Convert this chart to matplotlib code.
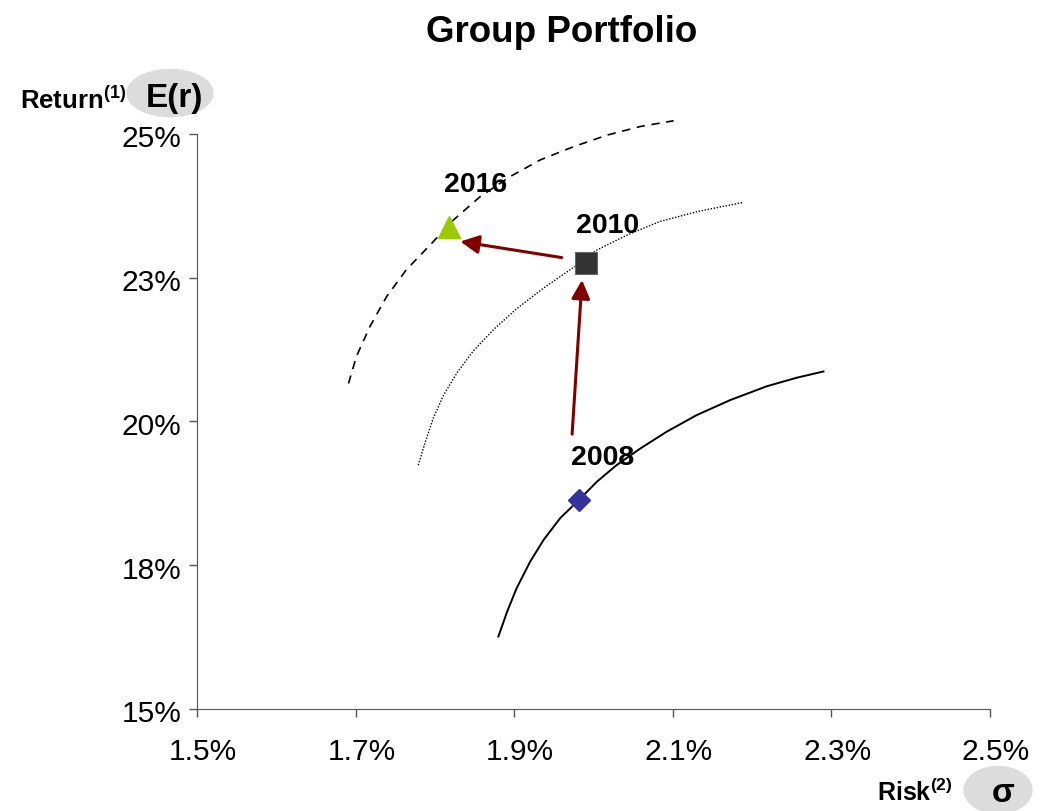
import matplotlib
matplotlib.use("Agg")
import matplotlib.pyplot as plt
from matplotlib.patches import Ellipse
from matplotlib.transforms import ScaledTranslation

plt.rcParams["font.family"] = ["Liberation Sans", "DejaVu Sans"]
plt.rcParams["mathtext.fontset"] = "custom"
plt.rcParams["mathtext.rm"] = "Liberation Sans:bold"
plt.rcParams["mathtext.bf"] = "Liberation Sans:bold"

# frontier curves, risk (%) vs return (%)
risk_2016 = [1.691, 1.701, 1.718, 1.739, 1.764, 1.794, 1.823, 1.857, 1.895,
             1.933, 1.975, 2.017, 2.059, 2.101]
ret_2016 = [20.66, 21.13, 21.65, 22.17, 22.64, 23.07, 23.50, 23.91, 24.26,
            24.55, 24.78, 24.98, 25.13, 25.23]

risk_2010 = [1.779, 1.788, 1.798, 1.811, 1.828, 1.848, 1.874, 1.903, 1.937,
             1.979, 2.004, 2.042, 2.084, 2.134, 2.189]
ret_2010 = [19.24, 19.65, 20.06, 20.46, 20.85, 21.22, 21.60, 21.96, 22.32,
            22.72, 22.98, 23.24, 23.48, 23.66, 23.81]

risk_2008 = [1.880, 1.891, 1.903, 1.920, 1.937, 1.958, 1.982, 2.004, 2.029,
             2.059, 2.092, 2.130, 2.172, 2.218, 2.256, 2.290]
ret_2008 = [16.26, 16.69, 17.10, 17.56, 17.94, 18.32, 18.64, 18.95, 19.24,
            19.53, 19.82, 20.11, 20.37, 20.61, 20.76, 20.87]

# portfolio points
years = ["2008", "2010", "2016"]
pt_risk = [1.982, 1.991, 1.818]
pt_ret = [18.64, 22.76, 23.39]
label_pos = [(2.011, 19.36), (2.018, 23.40), (1.851, 24.11)]

# arrows (start -> end)
arrows = [((1.973, 19.78), (1.9855, 22.46)), ((1.960, 22.85), (1.832, 23.13))]

xticks = [1.5, 1.7, 1.9, 2.1, 2.3, 2.5]
xlabels = ["1.5%", "1.7%", "1.9%", "2.1%", "2.3%", "2.5%"]
yticks = [15, 17.5, 20, 22.5, 25]
ylabels = ["15%", "18%", "20%", "23%", "25%"]

fig = plt.figure(figsize=(10.43, 8.11), dpi=100)
ax = fig.add_axes([0.1889, 0.1258, 0.7603, 0.709])

ax.plot(risk_2016, ret_2016, color="black", lw=1.2, ls=(0, (5, 4)), clip_on=False)
ax.plot(risk_2010, ret_2010, color="black", lw=1.0, ls=(0, (1, 1.2)), clip_on=False)
ax.plot(risk_2008, ret_2008, color="black", lw=1.4, ls="-", clip_on=False)

for (x0, y0), (x1, y1) in arrows:
    ax.annotate("", xy=(x1, y1), xytext=(x0, y0),
                arrowprops=dict(arrowstyle="-|>,head_length=0.8,head_width=0.4",
                                color="#800000", lw=2.2, shrinkA=0, shrinkB=0,
                                mutation_scale=14))

ax.plot(pt_risk[0], pt_ret[0], "D", ms=11.5, color="#333399", mec="#333399")
ax.plot(pt_risk[1], pt_ret[1], "s", ms=15.5, color="#333333", mec="#666666", mew=0.8)
ax.plot(pt_risk[2], pt_ret[2], "^", ms=16, color="#99cc00", mec="#99cc00")

for yr, (lx, ly) in zip(years, label_pos):
    ax.text(lx, ly, yr, fontsize=20.5, fontweight="bold", ha="center", va="center")

ax.set_xlim(1.5, 2.5)
ax.set_ylim(15, 25)
ax.set_xticks(xticks)
ax.set_xticklabels(xlabels)
ax.set_yticks(yticks)
ax.set_yticklabels(ylabels)
for s in ["top", "right"]:
    ax.spines[s].set_visible(False)
for s in ["left", "bottom"]:
    ax.spines[s].set_color("#555555")
ax.tick_params(axis="both", length=6, width=1, color="#555555", labelsize=21.5)
ax.tick_params(axis="x", pad=15)
ax.tick_params(axis="y", pad=5)

# labels in the original sit a few pixels right / lower than the ticks
for lab in ax.get_xticklabels():
    lab.set_transform(lab.get_transform() + ScaledTranslation(0.06, 0, fig.dpi_scale_trans))
for lab in ax.get_yticklabels():
    lab.set_transform(lab.get_transform() + ScaledTranslation(0, -0.025, fig.dpi_scale_trans))

fig.text(0.538, 1 - 32 / 811, "Group Portfolio", fontsize=26.5, fontweight="bold",
         ha="center", va="center")

fig.patches.append(Ellipse((170 / 1043, 1 - 93 / 811), 86 / 1043, 47 / 811,
                           transform=fig.transFigure, color="#dcdcdc", zorder=0))
fig.text(20 / 1043, 1 - 100 / 811, r"Return$^{(1)}$", fontsize=18.5,
         fontweight="bold", ha="left", va="center")
fig.text(174 / 1043, 1 - 99 / 811, "E(r)", fontsize=24, fontweight="bold",
         ha="center", va="center")

fig.patches.append(Ellipse((998 / 1043, 1 - 790 / 811), 68 / 1043, 47 / 811,
                           transform=fig.transFigure, color="#dcdcdc", zorder=0))
fig.text(953 / 1043, 1 - 792 / 811, r"Risk$^{(2)}$", fontsize=18,
         fontweight="bold", ha="right", va="center")
fig.text(1003 / 1043, 1 - 794 / 811, "σ", fontsize=24, fontweight="bold",
         ha="center", va="center")

fig.savefig("out.png", dpi=100)
